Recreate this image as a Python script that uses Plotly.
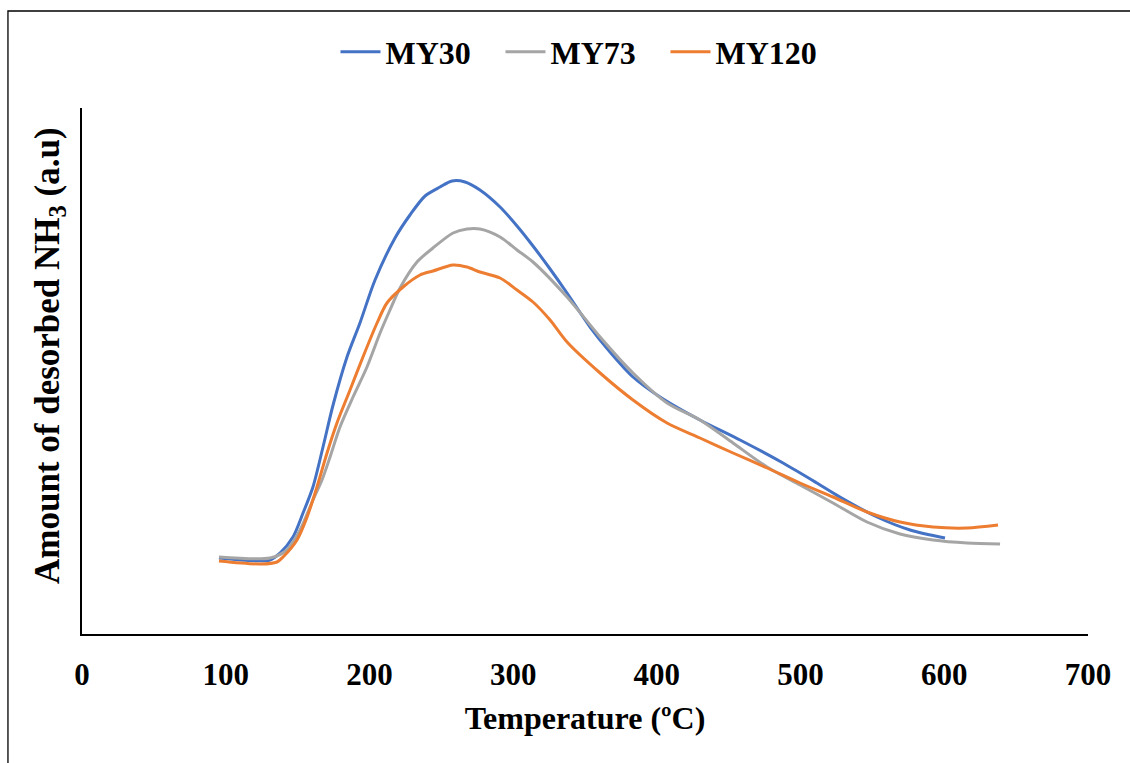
import plotly.graph_objects as go

# MY30 (blue)
t_my30 = [95.3, 130.8, 137.8, 146.8, 153.8, 160.7, 167.7, 174.7, 184.4, 193.4, 203.9,
          217.8, 228.2, 238.7, 249.1, 257.5, 266.5, 276.9, 290.9, 302.7, 313.8, 325.7,
          337.5, 353.5, 367.4, 383.4, 402.2, 430.0, 457.9, 487.8, 511.4, 527.4,
          553.2, 576.2, 600.5]
v_my30 = [15.2, 14.8, 16.2, 19.4, 24.2, 29.4, 37.4, 45.8, 55.4, 62.2, 70.8,
          79.2, 83.8, 87.6, 89.4, 90.6, 90.4, 88.8, 85.4, 81.6, 77.6, 73.0,
          68.2, 61.4, 56.4, 51.4, 47.4, 42.8, 38.8, 34.2, 30.2, 27.4,
          23.4, 20.8, 19.2]

# MY73 (gray)
t_my73 = [95.3, 130.8, 142.6, 151.7, 160.7, 167.0, 172.6, 179.5, 188.6, 198.3, 207.4,
          214.3, 221.3, 233.1, 244.2, 258.2, 267.9, 276.9, 290.9, 302.7, 313.8, 337.5,
          360.5, 383.4, 407.1, 430.0, 453.0, 476.7, 499.6, 522.6, 546.2, 569.2, 592.2,
          615.8, 638.8]
v_my73 = [15.4, 15.2, 16.8, 20.8, 26.8, 30.8, 35.4, 41.4, 47.4, 53.4, 60.2,
          64.8, 69.2, 74.4, 77.2, 80.2, 81.0, 81.0, 79.4, 76.8, 74.4, 67.4,
          59.4, 52.2, 46.2, 42.8, 38.2, 33.4, 29.8, 26.2, 22.4, 20.0, 18.8,
          18.2, 18.0]

# MY120 (orange)
t_my120 = [95.3, 123.9, 135.7, 139.9, 149.6, 156.6, 163.5, 170.5, 177.4, 186.5, 195.5,
           205.3, 212.2, 223.4, 235.2, 244.2, 258.2, 267.9, 276.9, 290.9, 302.7, 313.8,
           325.7, 337.5, 360.5, 383.4, 407.1, 430.0, 453.0, 476.7, 499.6, 522.6, 546.2,
           569.2, 592.2, 615.8, 637.4]
v_my120 = [14.6, 14.0, 14.4, 15.4, 18.8, 23.4, 29.4, 36.2, 42.2, 48.8, 55.4,
           62.2, 66.2, 69.4, 71.8, 72.6, 73.8, 73.4, 72.4, 71.2, 68.8, 66.4,
           62.8, 58.4, 52.2, 46.8, 42.2, 39.2, 36.2, 33.2, 30.2, 27.4, 24.4,
           22.4, 21.4, 21.2, 21.8]

x_ticks = [0, 100, 200, 300, 400, 500, 600, 700]

FONT = "Liberation Serif"

fig = go.Figure()
fig.add_trace(go.Scatter(x=t_my30, y=v_my30, mode="lines", name="MY30",
                         line=dict(color="#4472C4", width=3, shape="spline", smoothing=0.8)))
fig.add_trace(go.Scatter(x=t_my73, y=v_my73, mode="lines", name="MY73",
                         line=dict(color="#A5A5A5", width=3, shape="spline", smoothing=0.8)))
fig.add_trace(go.Scatter(x=t_my120, y=v_my120, mode="lines", name="MY120",
                         line=dict(color="#ED7D31", width=3, shape="spline", smoothing=0.8)))

fig.update_layout(
    width=1130, height=763,
    margin=dict(l=82, r=42, t=108, b=129),
    paper_bgcolor="white", plot_bgcolor="white",
    font=dict(family=FONT, color="black"),
    showlegend=True,
    legend=dict(orientation="h", x=0.498, y=1.1065, xanchor="center", yanchor="middle",
                font=dict(family=FONT, size=32, color="black", weight="bold"),
                entrywidth=110, entrywidthmode="pixels",
                itemwidth=40, tracegroupgap=0),
    xaxis=dict(range=[0, 700], tickmode="array", tickvals=x_ticks,
               ticktext=[str(v) for v in x_ticks],
               showline=True, linecolor="black", linewidth=1.5,
               showgrid=False, zeroline=False, ticks="", ticklabelstandoff=12,
               tickfont=dict(family=FONT, size=31, color="black", weight="bold"),
               title=dict(text="<b>Temperature (ºC)</b>", standoff=16,
                          font=dict(family=FONT, size=32, color="black"))),
    yaxis=dict(range=[0, 105.2], showline=True, linecolor="black", linewidth=1.5,
               showgrid=False, zeroline=False, ticks="", showticklabels=False),
    annotations=[dict(text="<b>Amount of desorbed NH<sub>3</sub> (a.u)</b>",
                      xref="paper", yref="paper", x=-0.0328, y=0.5285,
                      xanchor="center", yanchor="middle", textangle=-90,
                      showarrow=False, font=dict(family=FONT, size=35, color="black"))],
    shapes=[dict(type="rect", xref="paper", yref="paper",
                 x0=-0.0736, x1=1.2, y0=-0.4, y1=1.1844,
                 line=dict(color="black", width=1.3), fillcolor="rgba(0,0,0,0)", layer="below")],
)

fig.write_html("out.html")
